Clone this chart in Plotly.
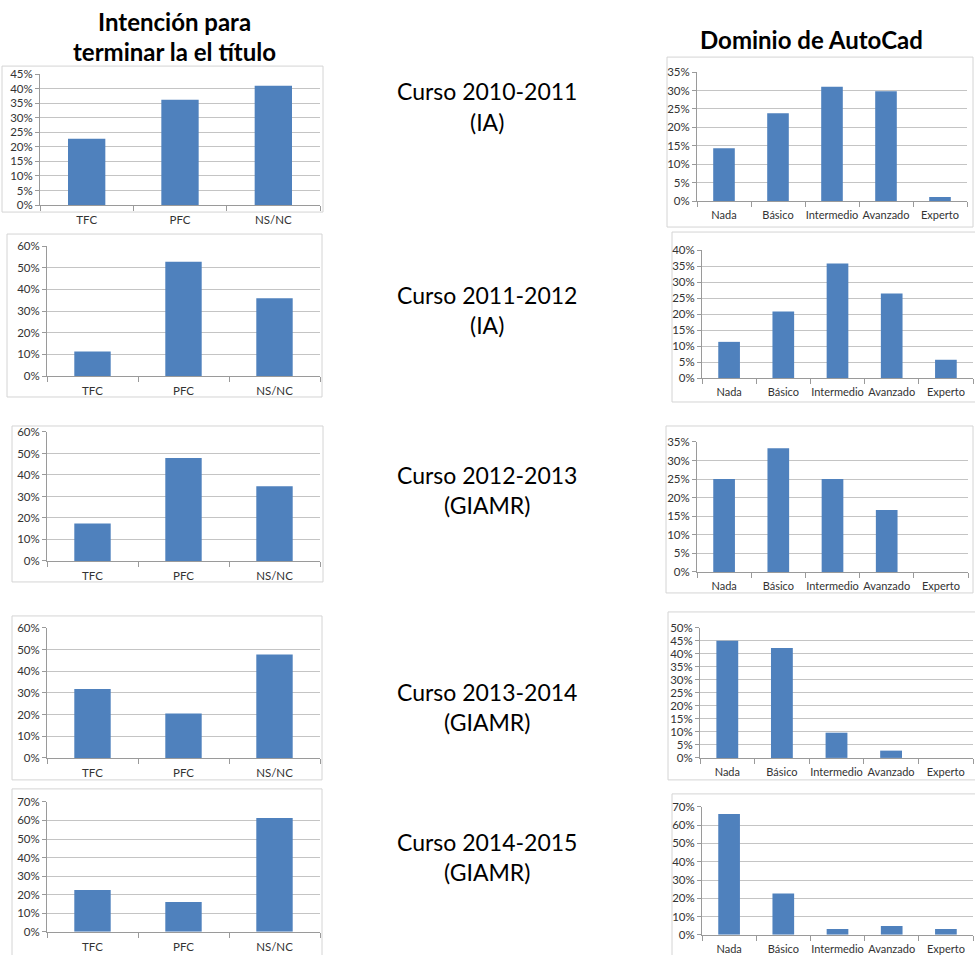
import plotly.graph_objects as go

W, H = 975, 955

# ---- data (percent) ----
intencion_cats = ["TFC", "PFC", "NS/NC"]
dominio_cats = ["Nada", "Básico", "Intermedio", "Avanzado", "Experto"]

cursos = ["Curso 2010-2011", "Curso 2011-2012", "Curso 2012-2013", "Curso 2013-2014", "Curso 2014-2015"]
grados = ["(IA)", "(IA)", "(GIAMR)", "(GIAMR)", "(GIAMR)"]

intencion_2010 = [22.8, 36.2, 41.0]
intencion_2011 = [11.3, 52.8, 35.9]
intencion_2012 = [17.4, 47.9, 34.7]
intencion_2013 = [31.8, 20.5, 47.7]
intencion_2014 = [22.6, 16.1, 61.3]

dominio_2010 = [14.3, 23.8, 31.0, 29.8, 1.1]
dominio_2011 = [11.3, 20.8, 35.8, 26.4, 5.7]
dominio_2012 = [25.0, 33.3, 25.0, 16.7, 0.0]
dominio_2013 = [45.1, 42.3, 9.7, 2.8, 0.0]
dominio_2014 = [66.1, 22.6, 3.2, 4.8, 3.2]

intencion_values = [intencion_2010, intencion_2011, intencion_2012, intencion_2013, intencion_2014]
dominio_values = [dominio_2010, dominio_2011, dominio_2012, dominio_2013, dominio_2014]

intencion_ymax = [45, 60, 60, 60, 70]
intencion_dtick = [5, 10, 10, 10, 10]
dominio_ymax = [35, 40, 35, 50, 70]
dominio_dtick = [5, 5, 5, 5, 10]

# ---- layout geometry (target pixels in the final picture) ----
left_boxes = [(2, 67, 323, 213), (7, 235, 322, 398), (12, 427, 323, 583), (12, 617, 322, 781), (12, 790, 322, 975)]
left_plots = [(40, 75, 320, 206), (47, 247, 320, 377), (47, 433, 320, 562), (47, 629, 320, 759), (47, 803, 320, 933)]
right_boxes = [(667, 58, 973, 228), (672, 233, 985, 403), (666, 427, 973, 594), (668, 613, 985, 781), (672, 795, 985, 975)]
right_plots = [(697, 73, 967, 202), (702, 251, 973, 379), (697, 443, 968, 573), (700, 629, 973, 759), (702, 808, 973, 936)]
center_y = [(92, 123), (296, 326), (476, 506), (693, 723), (843, 873)]

BAR = "#4F81BD"
GRID = "#c4c4c4"
AXIS = "#9a9a9a"
BORDER = "#d4d4d4"
FONT = "Lato"

# the captured page shows y' ~= 7.9 + 0.9835*y ; compensate
SY, OY = 0.9835, 7.9

fig = go.Figure()
layout = dict(
    width=W, height=H, margin=dict(l=0, r=0, t=0, b=0),
    paper_bgcolor="white", plot_bgcolor="white",
    showlegend=False, bargap=0.6,
    font=dict(family=FONT, color="#333333", size=11),
    shapes=[], annotations=[],
)

def px2x(x):
    return x / W

def px2y(y):
    return 1 - ((y - OY) / SY) / H

panels = []
for i in range(5):
    panels.append((intencion_cats, intencion_values[i], intencion_ymax[i], intencion_dtick[i], left_plots[i], left_boxes[i], 11.5))
for i in range(5):
    panels.append((dominio_cats, dominio_values[i], dominio_ymax[i], dominio_dtick[i], right_plots[i], right_boxes[i], 11))

for k, (cats, vals, ymax, dt, plot, box, fs) in enumerate(panels, start=1):
    xa = "x" if k == 1 else f"x{k}"
    ya = "y" if k == 1 else f"y{k}"
    fig.add_trace(go.Bar(x=cats, y=vals, marker=dict(color=BAR, line=dict(width=0)),
                         xaxis=xa, yaxis=ya, hoverinfo="skip"))
    x0, y0, x1, y1 = plot
    layout["xaxis" if k == 1 else f"xaxis{k}"] = dict(
        domain=[px2x(x0), min(1.0, px2x(x1))], anchor=ya, type="category",
        range=[-0.5, len(cats) - 0.5], tickson="boundaries", ticks="outside",
        ticklen=5, tickcolor=AXIS, showline=True, linecolor=AXIS, linewidth=1,
        showgrid=False, zeroline=False, fixedrange=True, tickangle=0,
        tickfont=dict(family=FONT, size=fs, color="#333333"), ticklabelstandoff=4,
    )
    layout["yaxis" if k == 1 else f"yaxis{k}"] = dict(
        domain=[max(0.0, px2y(y1)), min(1.0, px2y(y0))], anchor=xa, range=[0, ymax], dtick=dt,
        ticksuffix="%", ticks="outside", ticklen=4, tickcolor=AXIS,
        showline=True, linecolor=AXIS, linewidth=1,
        showgrid=True, gridcolor=GRID, gridwidth=1, zeroline=False, fixedrange=True,
        tickfont=dict(family=FONT, size=11.5, color="#333333"),
    )
    bx0, by0, bx1, by1 = box
    layout["shapes"].append(dict(type="rect", xref="paper", yref="paper",
                                 x0=px2x(bx0), x1=px2x(bx1), y0=px2y(by1), y1=px2y(by0),
                                 line=dict(color=BORDER, width=1), layer="below"))

def add_text(text, xpx, ypx, size):
    layout["annotations"].append(dict(text=text, x=px2x(xpx), y=px2y(ypx), xref="paper", yref="paper",
                                      xanchor="center", yanchor="middle", showarrow=False,
                                      font=dict(family=FONT, size=size, color="#000000")))

# titles
add_text("<b>Intención para</b>", 174, 22, 24)
add_text("<b>terminar la el título</b>", 174, 52, 24)
add_text("<b>Dominio de AutoCad</b>", 811, 40, 24)

for i in range(5):
    ya, yb = center_y[i]
    add_text(cursos[i], 487, ya, 23)
    add_text(grados[i], 487, yb, 23)

fig.update_layout(**layout)
fig.write_html("out.html", config={"displayModeBar": False})
